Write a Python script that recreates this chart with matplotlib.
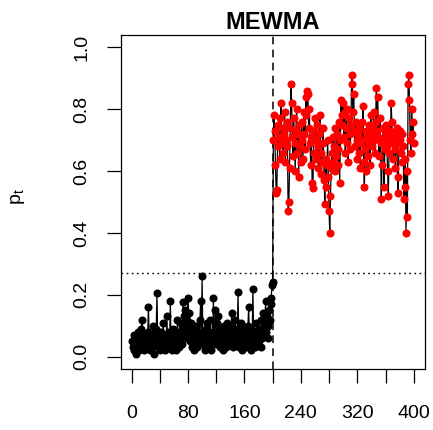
import numpy as np
import matplotlib
matplotlib.use("Agg")
import matplotlib.pyplot as plt

plt.rcParams['font.family'] = ['Liberation Sans', 'DejaVu Sans']
plt.rcParams['mathtext.fontset'] = 'custom'
plt.rcParams['mathtext.rm'] = 'Liberation Sans'

# in-control phase, t = 1..200
p_in = [0.05, 0.03, 0.07, 0.02, 0.04, 0.06, 0.01, 0.03, 0.08, 0.05, 0.02, 0.06, 0.04, 0.09, 0.12, 0.03, 0.05, 0.02, 0.07, 0.04,
        0.06, 0.03, 0.08, 0.16, 0.05, 0.02, 0.04, 0.07, 0.03, 0.10, 0.05, 0.01, 0.06, 0.04, 0.09, 0.205, 0.07, 0.03, 0.05, 0.02,
        0.04, 0.08, 0.06, 0.03, 0.11, 0.05, 0.02, 0.07, 0.04, 0.13, 0.06, 0.03, 0.08, 0.05, 0.18, 0.04, 0.02, 0.06, 0.09, 0.03,
        0.05, 0.07, 0.02, 0.04, 0.12, 0.06, 0.03, 0.08, 0.05, 0.11, 0.04, 0.09, 0.175, 0.07, 0.13, 0.15, 0.10, 0.06, 0.12, 0.19,
        0.14, 0.08, 0.05, 0.11, 0.03, 0.07, 0.04, 0.09, 0.02, 0.06, 0.10, 0.05, 0.03, 0.08, 0.04, 0.07, 0.12, 0.18, 0.06, 0.26,
        0.08, 0.04, 0.06, 0.02, 0.09, 0.05, 0.11, 0.03, 0.07, 0.04, 0.12, 0.06, 0.02, 0.08, 0.05, 0.19, 0.07, 0.10, 0.15, 0.04,
        0.11, 0.06, 0.13, 0.08, 0.03, 0.05, 0.09, 0.04, 0.07, 0.02, 0.10, 0.05, 0.08, 0.03, 0.06, 0.11, 0.04, 0.07, 0.09, 0.05,
        0.10, 0.14, 0.06, 0.03, 0.08, 0.05, 0.12, 0.04, 0.07, 0.09, 0.21, 0.06, 0.03, 0.08, 0.11, 0.05, 0.02, 0.07, 0.04, 0.09,
        0.06, 0.03, 0.08, 0.05, 0.10, 0.16, 0.07, 0.04, 0.09, 0.02, 0.06, 0.22, 0.08, 0.05, 0.03, 0.07, 0.11, 0.04, 0.06, 0.09,
        0.05, 0.08, 0.03, 0.12, 0.06, 0.09, 0.14, 0.07, 0.11, 0.18, 0.08, 0.13, 0.06, 0.10, 0.15, 0.12, 0.17, 0.19, 0.23, 0.24]

# out-of-control phase, t = 201..400
p_out = [0.70, 0.78, 0.73, 0.62, 0.53, 0.54, 0.68, 0.75, 0.71, 0.64, 0.77, 0.82, 0.69, 0.74, 0.66, 0.72, 0.79, 0.63, 0.70, 0.76,
         0.68, 0.47, 0.50, 0.61, 0.74, 0.88, 0.82, 0.71, 0.65, 0.77, 0.69, 0.60, 0.73, 0.80, 0.66, 0.72, 0.58, 0.75, 0.68, 0.63,
         0.76, 0.70, 0.64, 0.79, 0.72, 0.67, 0.84, 0.78, 0.86, 0.85, 0.74, 0.80, 0.69, 0.62, 0.71, 0.56, 0.545, 0.66, 0.73, 0.77,
         0.70, 0.64, 0.75, 0.68, 0.61, 0.72, 0.78, 0.66, 0.59, 0.63, 0.74, 0.69, 0.57, 0.495, 0.64, 0.55, 0.62, 0.70, 0.58, 0.47,
         0.40, 0.52, 0.61, 0.66, 0.71, 0.63, 0.68, 0.74, 0.60, 0.65, 0.72, 0.67, 0.62, 0.76, 0.56, 0.70, 0.83, 0.75, 0.78, 0.82,
         0.71, 0.79, 0.66, 0.74, 0.80, 0.69, 0.63, 0.77, 0.72, 0.67, 0.75, 0.91, 0.88, 0.79, 0.85, 0.73, 0.68, 0.76, 0.70, 0.64,
         0.72, 0.66, 0.74, 0.61, 0.69, 0.76, 0.70, 0.81, 0.63, 0.55, 0.67, 0.73, 0.60, 0.71, 0.65, 0.75, 0.69, 0.62, 0.78, 0.72,
         0.68, 0.74, 0.79, 0.70, 0.66, 0.76, 0.87, 0.73, 0.84, 0.71, 0.65, 0.77, 0.69, 0.51, 0.62, 0.70, 0.74, 0.55, 0.67, 0.72,
         0.75, 0.68, 0.60, 0.52, 0.66, 0.73, 0.70, 0.82, 0.76, 0.69, 0.64, 0.72, 0.67, 0.61, 0.71, 0.74, 0.58, 0.53, 0.69, 0.73,
         0.70, 0.66, 0.72, 0.63, 0.68, 0.51, 0.55, 0.64, 0.40, 0.60, 0.45, 0.88, 0.91, 0.83, 0.70, 0.66, 0.80, 0.72, 0.76, 0.69]

change_point = 200
limit = 0.27
xticks = [0, 40, 80, 120, 160, 200, 240, 280, 320, 360, 400]
xticklabels = ["0", "", "80", "", "160", "", "240", "", "320", "", "400"]
yticks = [0.0, 0.2, 0.4, 0.6, 0.8, 1.0]
yticklabels = ["0.0", "0.2", "0.4", "0.6", "0.8", "1.0"]

t_in = np.arange(1, len(p_in) + 1)
t_out = np.arange(len(p_in) + 1, len(p_in) + len(p_out) + 1)
t_all = np.concatenate([t_in, t_out])
p_all = np.concatenate([p_in, p_out])

fig = plt.figure(figsize=(4.33, 4.30), dpi=100)
ax = fig.add_axes([0.2794, 0.1419, 0.7021, 0.7767])

ax.plot(t_all, p_all, color="black", lw=0.9, zorder=2)
ax.plot(t_in, p_in, "o", color="black", ms=5.8, mew=0, zorder=3)
ax.plot(t_out, p_out, "o", color="red", ms=5.8, mew=0, zorder=3)
ax.axvline(change_point, color="black", lw=1.1, ls=(0, (5, 3.5)), zorder=1)
ax.axhline(limit, color="black", lw=1.0, ls=(0, (1.2, 2.5)), zorder=1)

ax.set_xlim(1 - 0.04 * 399, 400 + 0.04 * 399)
ax.set_ylim(-0.04, 1.04)
ax.set_xticks(xticks)
ax.set_xticklabels(xticklabels, fontsize=14)
ax.set_yticks(yticks)
ax.set_yticklabels(yticklabels, fontsize=14, rotation=90, va="center")
ax.tick_params(axis="x", length=10, width=0.9, pad=16)
ax.tick_params(axis="y", length=10, width=0.9, pad=12)
for s in ax.spines.values():
    s.set_linewidth(0.9)

ax.set_title("MEWMA", fontsize=17, fontweight="bold", pad=4)
fig.text(0.042, 0.542, r"$\mathrm{p}_\mathrm{t}$", rotation=90, fontsize=14, ha="center", va="center")

fig.savefig("out.png", dpi=100)
